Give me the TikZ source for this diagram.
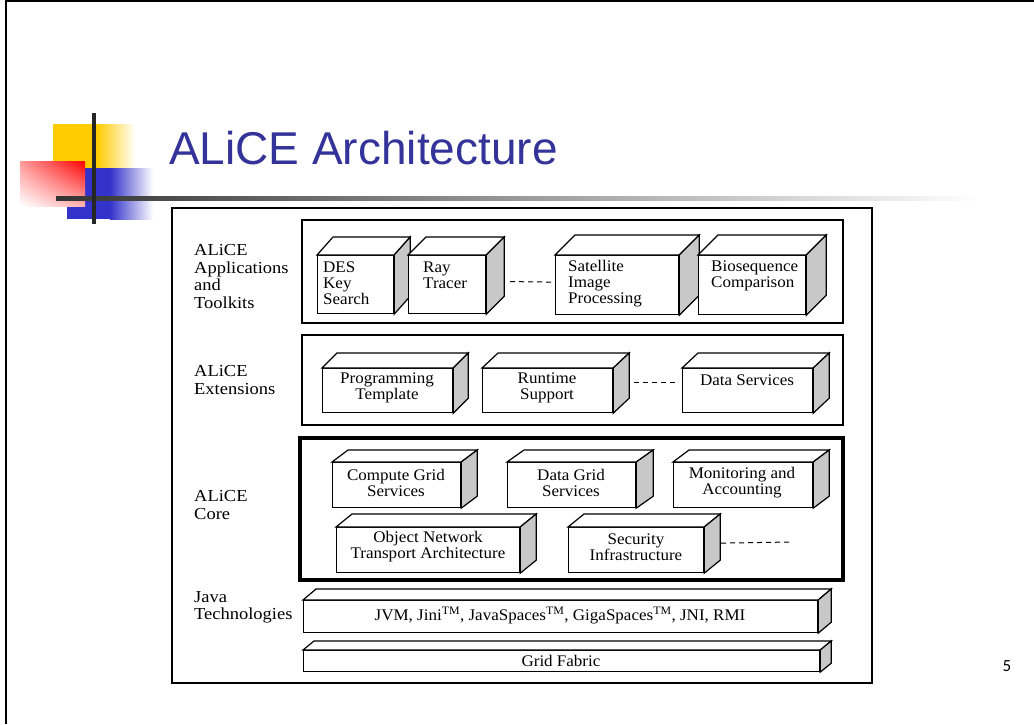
\documentclass[tikz,border=0pt]{standalone}
\usepackage{fontspec}
\setmainfont{Liberation Serif}[FakeStretch=1.05]
\newfontfamily\tierfont{Liberation Serif}[FakeStretch=1.1]
\newfontfamily\titlefont{Liberation Sans}
\newfontfamily\numfont{Carlito}
\usepackage{tikz}
\usetikzlibrary{calc, positioning, shadings}
\definecolor{titleblue}{RGB}{51,51,153}
\definecolor{logoyellow}{RGB}{255,204,0}
\definecolor{logoblue}{RGB}{51,51,204}
\definecolor{sidegray}{RGB}{200,200,200}

\begin{document}
\begin{tikzpicture}[x=1pt, y=-1pt,
    boxfront/.style={draw, fill=white, line width=1.2pt, inner sep=0pt, anchor=north west},
    boxtext/.style={inner sep=0pt, align=center, font=\fontsize{16.2}{16}\selectfont},
    tiertext/.style={inner sep=0pt, anchor=west, align=left, font=\tierfont\fontsize{16.8}{17.4}\selectfont},
    tierframe/.style={draw, line width=1.7pt},
    gapline/.style={line width=1pt, dash pattern=on 5pt off 4pt}]
    \useasboundingbox (0,0) rectangle (1034,724);
    \draw[line width=2.5pt] (6,724) -- (6,1.2) -- (1034,1.2);

    \fill[logoyellow] (53,124) rectangle (97,168);
    \shade[left color=logoyellow, right color=white] (97,124) rectangle (135,168);
    \fill[logoblue] (67,168) rectangle (110,219);
    \shade[left color=logoblue, right color=white] (110,168) rectangle (153,219);
    \shade[upper right=red, upper left=red!40!white, lower left=white, lower right=red!30!white] (20,161) rectangle (85,206);
    \shade[left color=black!80, right color=white] (56,196) rectangle (980,200);
    \fill[black!85] (92,113) rectangle (96,224);

    \node[anchor=base west, inner sep=0pt, text=titleblue, font=\titlefont\fontsize{46}{46}\selectfont] (title) at (169,164) {ALiCE Architecture};
    \node[font=\numfont\fontsize{17}{17}\selectfont, inner sep=0pt] (pagenum) at (1007,666) {5};

    \draw[line width=1.1pt] (172,208) rectangle (872,683);
    \draw[tierframe] (302,220) rectangle (843,323);
    \draw[tierframe] (302,335) rectangle (843,425);
    \draw[tierframe, line width=3.5pt] (300,438) rectangle (843,580);

    \foreach \n/\xa/\ya/\xb/\yb/\dx/\dy in {des/317/255/393/313/16/18, ray/408/255/485/313/18/18,
        sat/555/255/678/314/20/20, bio/698/255/805/314/20/20,
        prog/322/368/452/412/15/15, run/482/368/612/412/16/15, dsv/682/368/812/412/16/15,
        cgs/332/462/460/507/16/12, dgs/507/462/635/507/17/12, mon/673/462/812/507/16/12,
        ont/336/527/519/572/16/13, sec/568/527/703/572/16/13,
        jvm/303/600/817/632/13/11, gfab/303/650/819/671/11/9} {
        \node[boxfront, minimum width={(\xb-\xa)*1pt}, minimum height={(\yb-\ya)*1pt}] (\n) at (\xa,\ya) {};
        \draw[line width=1.2pt, fill=white] (\n.north west) -- ++(\dx,-\dy) -- ($(\n.north east)+(\dx,-\dy)$) -- (\n.north east) -- cycle;
        \draw[line width=1.2pt, fill=sidegray] (\n.north east) -- ++(\dx,-\dy) -- ($(\n.south east)+(\dx,-\dy)$) -- (\n.south east) -- cycle;
    }

    \node[boxtext, anchor=west, align=left] (des-t) at (323,283.5) {DES\\Key\\Search};
    \node[boxtext, anchor=west, align=left] (ray-t) at (423,275.5) {Ray\\Tracer};
    \node[boxtext, anchor=west, align=left] (sat-t) at (568,283.5) {Satellite\\Image\\Processing};
    \node[boxtext, anchor=west, align=left] (bio-t) at (711,275.5) {Biosequence\\Comparison};
    \node[boxtext] (prog-t) at (387,388) {Programming\\Template};
    \node[boxtext] (run-t) at (547,388) {Runtime\\Support};
    \node[boxtext] (dsv-t) at (747,380.5) {Data Services};
    \node[boxtext] (cgs-t) at (396,482.5) {Compute Grid\\Services};
    \node[boxtext] (dgs-t) at (571,482.5) {Data Grid\\Services};
    \node[boxtext] (mon-t) at (742,482.5) {Monitoring and\\Accounting};
    \node[boxtext] (ont-t) at (428,547) {Object Network\\Transport Architecture};
    \node[boxtext] (sec-t) at (636,547) {Security\\Infrastructure};
    \node[boxtext] (jvm-t) at (560,615.5) {JVM, Jini\textsuperscript{TM}, JavaSpaces\textsuperscript{TM}, GigaSpaces\textsuperscript{TM}, JNI, RMI};
    \node[boxtext] (gfab-t) at (561,660.5) {Grid Fabric};

    \node[tiertext] (apps) at (194,276.5) {ALiCE\\Applications\\and\\Toolkits};
    \node[tiertext] (exts) at (194,380) {ALiCE\\Extensions};
    \node[tiertext] (core) at (194,505) {ALiCE\\Core};
    \node[tiertext] (java) at (194,607.5) {Java\\Technologies};

    \coordinate (secend) at (792,542);
    \draw[gapline] ($(ray.east)+(24,-3)$) -- ($(sat.west)+(-2,-3)$);
    \draw[gapline] ($(run.east)+(21,-8)$) -- ($(dsv.west)+(-7,-8)$);
    \draw[gapline] ($(sec.east)+(17,-7)$) -- (secend);
\end{tikzpicture}
\end{document}
